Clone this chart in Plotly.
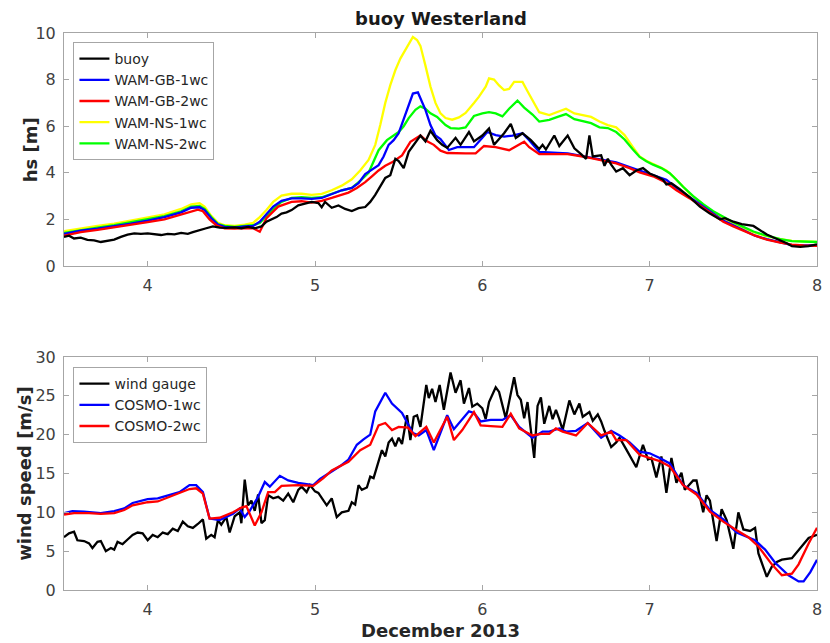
import plotly.graph_objects as go

# ---------------- significant wave height (top panel) ----------------
buoy_t = [3.50, 3.53, 3.56, 3.60, 3.64, 3.68, 3.72, 3.76, 3.80, 3.84, 3.88, 3.92, 3.96, 4.00,
          4.04, 4.08, 4.12, 4.16, 4.20, 4.24, 4.27, 4.31, 4.35, 4.39, 4.43, 4.47, 4.52, 4.56,
          4.60, 4.64, 4.68, 4.71, 4.74, 4.77, 4.80, 4.83, 4.86, 4.90, 4.94, 4.98, 5.02, 5.04,
          5.06, 5.10, 5.14, 5.18, 5.22, 5.26, 5.30, 5.33, 5.36, 5.39, 5.42, 5.45, 5.48, 5.50,
          5.53, 5.56, 5.60, 5.63, 5.66, 5.69, 5.73, 5.76, 5.79, 5.84, 5.87, 5.92, 5.95, 6.00,
          6.04, 6.07, 6.13, 6.17, 6.20, 6.24, 6.29, 6.34, 6.36, 6.38, 6.43, 6.46, 6.51, 6.55,
          6.59, 6.62, 6.64, 6.66, 6.71, 6.73, 6.75, 6.77, 6.80, 6.84, 6.88, 6.92, 6.96, 7.00,
          7.04, 7.08, 7.10, 7.13, 7.18, 7.24, 7.30, 7.36, 7.42, 7.45, 7.50, 7.55, 7.62, 7.66,
          7.70, 7.74, 7.78, 7.82, 7.85, 7.90, 7.95, 8.00]
buoy_hs = [1.25, 1.30, 1.18, 1.22, 1.12, 1.10, 1.03, 1.08, 1.13, 1.25, 1.35, 1.40, 1.38, 1.40,
           1.36, 1.33, 1.38, 1.36, 1.42, 1.38, 1.45, 1.55, 1.62, 1.70, 1.65, 1.64, 1.66, 1.62,
           1.68, 1.62, 1.70, 1.90, 2.00, 2.10, 2.25, 2.30, 2.40, 2.60, 2.68, 2.75, 2.70, 2.52,
           2.75, 2.50, 2.60, 2.45, 2.36, 2.48, 2.53, 2.75, 3.05, 3.40, 3.78, 3.90, 4.60, 4.50,
           4.20, 4.90, 5.30, 5.60, 5.35, 5.80, 5.40, 5.20, 5.07, 5.50, 5.20, 5.75, 5.35, 5.60,
           5.90, 5.20, 5.70, 6.10, 5.50, 5.70, 5.40, 5.02, 5.20, 5.00, 5.60, 5.15, 5.60, 5.05,
           4.80, 4.60, 5.60, 4.70, 4.75, 4.30, 4.60, 4.35, 4.05, 4.20, 3.90, 4.10, 4.20, 3.97,
           3.85, 3.70, 3.50, 3.55, 3.30, 2.95, 2.55, 2.25, 2.00, 2.05, 1.90, 1.80, 1.72, 1.55,
           1.35, 1.22, 1.10, 0.98, 0.85, 0.82, 0.85, 0.93]

gb1_t = [3.50, 3.60, 3.70, 3.80, 3.90, 4.00, 4.10, 4.20, 4.26, 4.31, 4.34, 4.38, 4.42, 4.46,
         4.52, 4.58, 4.63, 4.67, 4.71, 4.75, 4.80, 4.86, 4.92, 4.98, 5.04, 5.10, 5.16, 5.22,
         5.26, 5.30, 5.34, 5.38, 5.41, 5.44, 5.47, 5.50, 5.53, 5.56, 5.585, 5.615, 5.63, 5.66,
         5.69, 5.72, 5.75, 5.80, 5.85, 5.95, 6.00, 6.03, 6.08, 6.13, 6.18, 6.24, 6.28, 6.34,
         6.45, 6.51, 6.60, 6.70, 6.80, 6.88, 6.94, 7.02, 7.10, 7.16, 7.24, 7.30, 7.36, 7.44,
         7.50, 7.56, 7.63, 7.70, 7.78, 7.85, 7.92, 8.00]
gb1_hs = [1.38, 1.52, 1.60, 1.70, 1.82, 1.95, 2.10, 2.30, 2.50, 2.52, 2.40, 2.05, 1.78, 1.68,
          1.65, 1.70, 1.72, 1.90, 2.25, 2.55, 2.80, 2.90, 2.90, 2.88, 2.92, 3.10, 3.25, 3.35,
          3.55, 3.95, 4.15, 4.33, 4.70, 5.20, 5.40, 5.70, 6.30, 6.90, 7.40, 7.45, 7.20, 6.70,
          6.05, 5.60, 5.45, 4.98, 5.10, 5.10, 5.50, 5.75, 5.62, 5.55, 5.60, 5.70, 5.40, 4.90,
          4.85, 4.83, 4.72, 4.60, 4.45, 4.25, 4.10, 3.90, 3.70, 3.35, 2.97, 2.65, 2.35, 1.95,
          1.75, 1.55, 1.30, 1.15, 1.00, 0.90, 0.88, 0.90]

gb2_t = [3.50, 3.60, 3.70, 3.80, 3.90, 4.00, 4.10, 4.20, 4.25, 4.30, 4.33, 4.37, 4.41, 4.46,
         4.52, 4.58, 4.63, 4.67, 4.71, 4.75, 4.78, 4.86, 4.92, 4.98, 5.04, 5.10, 5.16, 5.20,
         5.25, 5.30, 5.34, 5.38, 5.42, 5.46, 5.52, 5.57, 5.63, 5.67, 5.71, 5.75, 5.79, 5.85,
         5.90, 5.96, 6.01, 6.08, 6.16, 6.25, 6.28, 6.34, 6.45, 6.51, 6.60, 6.70, 6.80, 6.88,
         6.94, 7.02, 7.10, 7.16, 7.24, 7.30, 7.36, 7.44, 7.50, 7.56, 7.63, 7.70, 7.78, 7.85,
         7.92, 8.00]
gb2_hs = [1.30, 1.45, 1.55, 1.65, 1.75, 1.88, 2.00, 2.20, 2.30, 2.42, 2.35, 2.00, 1.75, 1.62,
          1.60, 1.63, 1.62, 1.47, 2.05, 2.35, 2.55, 2.75, 2.78, 2.72, 2.80, 2.92, 3.05, 3.15,
          3.35, 3.60, 3.85, 4.10, 4.30, 4.45, 4.75, 5.33, 5.60, 5.35, 5.20, 4.95, 4.85, 4.83,
          4.83, 4.83, 5.15, 5.10, 4.97, 5.33, 5.10, 4.80, 4.78, 4.80, 4.70, 4.55, 4.40, 4.20,
          4.02, 3.85, 3.57, 3.25, 2.90, 2.60, 2.30, 1.90, 1.70, 1.52, 1.30, 1.13, 1.00, 0.92,
          0.88, 0.87]

ns1_t = [3.50, 3.60, 3.70, 3.80, 3.90, 4.00, 4.10, 4.20, 4.26, 4.31, 4.34, 4.38, 4.42, 4.46,
         4.52, 4.58, 4.63, 4.67, 4.71, 4.75, 4.80, 4.86, 4.92, 4.98, 5.04, 5.10, 5.16, 5.22,
         5.27, 5.32, 5.36, 5.39, 5.42, 5.45, 5.48, 5.51, 5.55, 5.585, 5.61, 5.63, 5.66, 5.69,
         5.72, 5.75, 5.78, 5.82, 5.86, 5.90, 5.95, 5.98, 6.02, 6.04, 6.07, 6.10, 6.13, 6.16,
         6.19, 6.24, 6.27, 6.30, 6.34, 6.40, 6.45, 6.50, 6.55, 6.60, 6.65, 6.70, 6.75, 6.80,
         6.85, 6.90, 6.94, 6.98, 7.02, 7.06, 7.10, 7.14, 7.18, 7.24, 7.30, 7.36, 7.42, 7.48,
         7.55, 7.62, 7.70, 7.78, 7.85, 7.92, 8.00]
ns1_hs = [1.50, 1.62, 1.72, 1.82, 1.95, 2.08, 2.22, 2.45, 2.65, 2.70, 2.55, 2.15, 1.85, 1.75,
          1.72, 1.78, 1.85, 2.10, 2.40, 2.75, 3.02, 3.10, 3.10, 3.05, 3.10, 3.25, 3.45, 3.72,
          4.10, 4.55, 5.20, 6.05, 7.00, 7.76, 8.40, 8.90, 9.40, 9.83, 9.70, 9.45, 8.60, 7.70,
          7.00, 6.55, 6.35, 6.28, 6.38, 6.57, 7.00, 7.27, 7.70, 8.05, 8.00, 7.75, 7.55, 7.60,
          7.90, 7.90, 7.50, 7.10, 6.60, 6.48, 6.60, 6.75, 6.55, 6.48, 6.40, 6.20, 6.05, 5.95,
          5.62, 5.10, 4.70, 4.52, 4.40, 4.25, 4.10, 3.85, 3.55, 3.10, 2.75, 2.40, 2.15, 1.90,
          1.65, 1.45, 1.28, 1.15, 1.08, 1.05, 1.03]

ns2_t = [3.50, 3.60, 3.70, 3.80, 3.90, 4.00, 4.10, 4.20, 4.26, 4.31, 4.34, 4.38, 4.42, 4.46,
         4.52, 4.58, 4.63, 4.67, 4.71, 4.75, 4.80, 4.86, 4.92, 4.98, 5.04, 5.10, 5.16, 5.22,
         5.27, 5.32, 5.36, 5.38, 5.43, 5.50, 5.53, 5.56, 5.60, 5.63, 5.66, 5.69, 5.73, 5.78,
         5.81, 5.86, 5.90, 5.95, 6.00, 6.04, 6.08, 6.12, 6.16, 6.21, 6.25, 6.30, 6.34, 6.40,
         6.45, 6.50, 6.55, 6.60, 6.65, 6.70, 6.75, 6.80, 6.85, 6.90, 6.94, 6.98, 7.02, 7.07,
         7.12, 7.16, 7.20, 7.26, 7.32, 7.38, 7.44, 7.50, 7.56, 7.62, 7.70, 7.78, 7.85, 7.92,
         8.00]
ns2_hs = [1.42, 1.55, 1.65, 1.75, 1.87, 2.00, 2.14, 2.35, 2.55, 2.58, 2.45, 2.10, 1.80, 1.72,
          1.68, 1.72, 1.75, 1.85, 2.15, 2.45, 2.75, 2.92, 2.95, 2.92, 2.95, 3.10, 3.25, 3.35,
          3.65, 4.00, 4.60, 4.97, 5.40, 5.75, 6.00, 6.35, 6.70, 6.85, 6.75, 6.55, 6.40, 6.05,
          5.92, 5.90, 5.95, 6.44, 6.55, 6.60, 6.55, 6.42, 6.75, 7.10, 6.80, 6.50, 6.20, 6.27,
          6.40, 6.52, 6.30, 6.20, 6.13, 5.95, 5.92, 5.75, 5.43, 5.00, 4.68, 4.50, 4.35, 4.20,
          3.98, 3.70, 3.40, 3.00, 2.65, 2.35, 2.10, 1.88, 1.68, 1.48, 1.30, 1.15, 1.07, 1.04,
          1.03]

# ---------------- wind speed (bottom panel) ----------------
gauge_t = [3.50, 3.53, 3.56, 3.58, 3.62, 3.65, 3.67, 3.70, 3.72, 3.75, 3.78, 3.80, 3.82, 3.85,
           3.88, 3.91, 3.94, 3.97, 4.00, 4.03, 4.06, 4.09, 4.12, 4.15, 4.18, 4.21, 4.24, 4.27,
           4.30, 4.33, 4.35, 4.38, 4.40, 4.42, 4.44, 4.47, 4.49, 4.52, 4.55, 4.56, 4.58, 4.60,
           4.62, 4.64, 4.66, 4.68, 4.70, 4.72, 4.75, 4.78, 4.81, 4.84, 4.87, 4.90, 4.92, 4.95,
           4.97, 5.00, 5.02, 5.05, 5.07, 5.10, 5.13, 5.16, 5.20, 5.22, 5.24, 5.26, 5.28, 5.31,
           5.33, 5.35, 5.38, 5.40, 5.42, 5.44, 5.46, 5.48, 5.50, 5.52, 5.55, 5.57, 5.59, 5.61,
           5.63, 5.665, 5.68, 5.70, 5.72, 5.745, 5.77, 5.81, 5.84, 5.87, 5.89, 5.92, 5.94, 5.97,
           6.00, 6.02, 6.04, 6.08, 6.10, 6.14, 6.19, 6.21, 6.23, 6.25, 6.27, 6.31, 6.33, 6.35,
           6.37, 6.40, 6.42, 6.44, 6.46, 6.48, 6.52, 6.55, 6.58, 6.60, 6.64, 6.66, 6.69, 6.71,
           6.73, 6.77, 6.80, 6.82, 6.86, 6.89, 6.92, 6.96, 6.99, 7.01, 7.04, 7.07, 7.10, 7.13,
           7.16, 7.19, 7.21, 7.26, 7.28, 7.32, 7.34, 7.36, 7.40, 7.43, 7.46, 7.50, 7.53, 7.56,
           7.60, 7.63, 7.65, 7.70, 7.73, 7.76, 7.79, 7.85, 7.90, 7.95, 8.00]
gauge_ws = [6.8, 7.3, 7.5, 6.4, 6.3, 6.0, 5.4, 6.2, 6.3, 5.0, 5.4, 5.2, 6.2, 5.9,
            6.5, 7.1, 7.4, 7.3, 6.4, 7.1, 6.8, 7.4, 7.2, 7.9, 7.6, 8.8, 8.2, 8.0,
            8.5, 9.1, 6.6, 7.1, 6.8, 9.0, 8.4, 9.4, 7.4, 9.5, 10.0, 8.6, 14.2, 10.9,
            11.5, 10.2, 12.3, 8.6, 9.0, 12.2, 11.8, 12.0, 11.5, 12.4, 11.3, 12.9, 13.3, 12.6,
            13.5, 12.7, 12.5, 11.6, 10.9, 11.8, 9.4, 10.0, 10.2, 11.3, 11.0, 13.5, 12.9, 13.2,
            14.6, 14.4, 16.5, 18.0, 17.2, 19.0, 19.5, 18.5, 19.6, 18.8, 22.5, 19.3, 22.3, 22.5,
            21.0, 26.4, 24.7, 25.9, 24.2, 26.4, 23.2, 28.0, 25.4, 27.0, 24.0, 26.0, 23.6, 24.0,
            23.4, 22.0, 24.2, 26.1, 25.5, 22.1, 27.4, 25.1, 24.5, 22.1, 24.2, 17.0, 23.7, 24.8,
            21.4, 23.7, 22.0, 23.2, 22.0, 20.6, 24.4, 22.6, 24.0, 22.3, 22.9, 21.8, 22.6, 21.7,
            20.5, 18.4, 19.0, 19.6, 18.1, 17.0, 15.8, 18.7, 16.8, 17.0, 14.5, 17.2, 12.5, 17.0,
            13.8, 15.1, 12.9, 14.1, 14.1, 10.0, 12.2, 11.5, 6.3, 10.4, 9.0, 5.3, 10.0, 7.8,
            7.6, 8.0, 4.7, 1.7, 3.0, 3.6, 3.9, 4.1, 5.4, 6.7, 7.1]

cosmo1_t = [3.50, 3.55, 3.62, 3.72, 3.80, 3.86, 3.91, 4.00, 4.06, 4.12, 4.19, 4.25, 4.29, 4.33,
            4.37, 4.43, 4.51, 4.55, 4.58, 4.61, 4.66, 4.70, 4.73, 4.79, 4.84, 4.90, 4.99, 5.03,
            5.10, 5.16, 5.20, 5.25, 5.29, 5.33, 5.36, 5.42, 5.46, 5.50, 5.52, 5.585, 5.62, 5.665,
            5.71, 5.79, 5.83, 5.92, 5.95, 5.99, 6.05, 6.12, 6.17, 6.22, 6.30, 6.36, 6.40, 6.46,
            6.50, 6.56, 6.63, 6.71, 6.77, 6.82, 6.88, 6.94, 7.00, 7.06, 7.12, 7.20, 7.28, 7.36,
            7.44, 7.52, 7.58, 7.63, 7.69, 7.75, 7.83, 7.89, 7.92, 7.96, 8.00]
cosmo1_ws = [9.9, 10.15, 10.1, 9.9, 10.15, 10.5, 11.2, 11.7, 11.8, 12.2, 12.6, 13.5, 13.5, 12.6,
             9.2, 9.0, 9.8, 10.5, 9.4, 10.2, 12.0, 13.9, 13.3, 14.7, 14.1, 13.8, 13.5, 14.3,
             15.3, 16.1, 16.8, 18.7, 19.4, 20.0, 23.0, 25.4, 24.0, 23.2, 22.8, 20.2, 19.9, 20.6,
             18.0, 22.5, 20.7, 23.0, 22.8, 21.7, 21.9, 21.9, 22.5, 21.0, 19.6, 20.4, 20.4, 20.8,
             20.4, 20.5, 21.5, 19.6, 20.5, 19.9, 19.0, 17.8, 17.6, 17.0, 16.3, 13.5, 12.5, 10.3,
             9.1, 7.4, 6.9, 6.4, 5.2, 3.5, 1.9, 1.1, 1.1, 2.3, 3.9]

cosmo2_t = [3.50, 3.56, 3.65, 3.72, 3.80, 3.86, 3.91, 4.00, 4.06, 4.12, 4.19, 4.25, 4.29, 4.33,
            4.37, 4.43, 4.51, 4.56, 4.59, 4.64, 4.68, 4.72, 4.76, 4.80, 4.90, 4.99, 5.05, 5.10,
            5.20, 5.27, 5.33, 5.38, 5.42, 5.46, 5.50, 5.556, 5.60, 5.665, 5.71, 5.79, 5.83, 5.88,
            5.95, 5.99, 6.05, 6.12, 6.17, 6.22, 6.30, 6.35, 6.40, 6.44, 6.48, 6.56, 6.63, 6.71,
            6.77, 6.80, 6.86, 6.94, 7.06, 7.12, 7.20, 7.28, 7.36, 7.44, 7.52, 7.59, 7.65, 7.73,
            7.79, 7.85, 7.89, 7.95, 8.00]
cosmo2_ws = [9.7, 9.9, 9.9, 9.8, 9.9, 10.3, 10.9, 11.3, 11.4, 11.9, 12.4, 13.0, 13.1, 12.4,
             9.2, 9.3, 10.0, 10.6, 10.8, 8.3, 10.0, 12.6, 12.6, 13.4, 13.5, 13.4, 14.4, 15.4,
             16.5, 18.0, 18.7, 21.2, 21.5, 20.6, 21.0, 20.9, 19.8, 21.0, 19.0, 22.3, 19.3, 20.6,
             22.9, 21.2, 21.1, 21.0, 22.7, 20.8, 19.9, 20.1, 20.1, 20.8, 20.4, 19.9, 21.5, 19.9,
             20.4, 19.3, 19.3, 17.4, 16.6, 15.9, 13.5, 12.3, 10.1, 8.8, 7.7, 6.8, 5.6, 3.3,
             1.9, 2.1, 3.3, 6.0, 8.0]

x_ticks = [4, 5, 6, 7, 8]
hs_ticks = [0, 2, 4, 6, 8, 10]
ws_ticks = [0, 5, 10, 15, 20, 25, 30]

FONT = "DejaVu Sans"
LW = 2.3

fig = go.Figure()

top_series = [
    ("buoy", buoy_t, buoy_hs, "#000000"),
    ("WAM-GB-1wc", gb1_t, gb1_hs, "#0000ff"),
    ("WAM-GB-2wc", gb2_t, gb2_hs, "#ff0000"),
    ("WAM-NS-1wc", ns1_t, ns1_hs, "#ffff00"),
    ("WAM-NS-2wc", ns2_t, ns2_hs, "#00ff00"),
]
# draw order: models under the buoy trace, legend order kept by legendrank
draw_order = [3, 4, 1, 2, 0]
for i in draw_order:
    name, t, v, c = top_series[i]
    fig.add_trace(go.Scatter(x=t, y=v, mode="lines", name=name, legendrank=i + 1,
                             line=dict(color=c, width=LW), xaxis="x", yaxis="y",
                             legend="legend"))

bottom_series = [
    ("wind gauge", gauge_t, gauge_ws, "#000000"),
    ("COSMO-1wc", cosmo1_t, cosmo1_ws, "#0000ff"),
    ("COSMO-2wc", cosmo2_t, cosmo2_ws, "#ff0000"),
]
for i in [0, 1, 2]:
    name, t, v, c = bottom_series[i]
    fig.add_trace(go.Scatter(x=t, y=v, mode="lines", name=name, legendrank=i + 1,
                             line=dict(color=c, width=LW), xaxis="x2", yaxis="y2",
                             legend="legend2"))

W, H = 830, 643
L, R, T, B = 63.5, 8, 33, 53
ph = H - T - B


def py(pix):
    """paper y coordinate of a pixel row"""
    return (H - B - pix) / ph


def px(pix):
    return (pix - L) / (W - L - R)


axis_common = dict(
    showline=True, linecolor="#a6a6a6", linewidth=1, mirror="ticks",
    ticks="inside", ticklen=5, tickcolor="#a6a6a6", tickwidth=1,
    showgrid=False, zeroline=False,
    tickfont=dict(family=FONT, size=16, color="#404040"),
)

legend_style = dict(
    xanchor="left", yanchor="top",
    bgcolor="white", bordercolor="#a6a6a6", borderwidth=1,
    font=dict(family=FONT, size=14, color="#262626"),
    tracegroupgap=0, itemwidth=30,
)

fig.update_layout(
    width=W, height=H,
    paper_bgcolor="white", plot_bgcolor="white",
    margin=dict(l=L, r=R, t=T, b=B),
    showlegend=True,
    xaxis=dict(domain=[0, 1], range=[3.5, 8], tickvals=x_ticks, anchor="y",
               ticklabelstandoff=5, **axis_common),
    yaxis=dict(domain=[py(266), 1], range=[0, 10], tickvals=hs_ticks, anchor="x",
               ticklabelstandoff=4, **axis_common),
    xaxis2=dict(domain=[0, 1], range=[3.5, 8], tickvals=x_ticks, anchor="y2",
                ticklabelstandoff=5, **axis_common),
    yaxis2=dict(domain=[0, py(357)], range=[0, 30], tickvals=ws_ticks, anchor="x2",
                ticklabelstandoff=4, **axis_common),
    legend=dict(x=px(73), y=py(42), **legend_style),
    legend2=dict(x=px(73), y=py(367), **legend_style),
    annotations=[
        dict(text="<b>buoy Westerland</b>", x=0.5, y=py(18), xref="paper", yref="paper",
             showarrow=False, xanchor="center", yanchor="middle",
             font=dict(family=FONT, size=18, color="#1a1a1a")),
        dict(text="<b>hs [m]</b>", x=px(30), y=py(149.5), xref="paper", yref="paper",
             showarrow=False, xanchor="center", yanchor="middle", textangle=-90,
             font=dict(family=FONT, size=18, color="#262626")),
        dict(text="<b>wind speed [m/s]</b>", x=px(23), y=py(474), xref="paper", yref="paper",
             showarrow=False, xanchor="center", yanchor="middle", textangle=-90,
             font=dict(family=FONT, size=18, color="#262626")),
        dict(text="<b>December 2013</b>", x=0.5, y=py(630), xref="paper", yref="paper",
             showarrow=False, xanchor="center", yanchor="middle",
             font=dict(family=FONT, size=18, color="#262626")),
    ],
)

fig.write_html("out.html")
